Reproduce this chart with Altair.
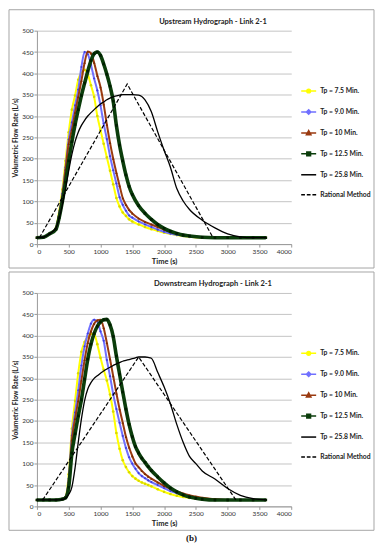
import altair as alt
import pandas as pd

# ---------------- data ----------------
SERIES = ["Tp = 7.5 Min.", "Tp = 9.0 Min.", "Tp = 10 Min.", "Tp = 12.5 Min.",
          "Tp = 25.8 Min.", "Rational Method"]

# Upstream hydrograph
T_UP = [0, 100, 200, 300, 350, 400, 450, 500, 550, 600, 650, 700, 750, 800, 850, 900,
        950, 1000, 1050, 1100, 1150, 1200, 1250, 1300, 1350, 1400, 1450, 1500,
        1600, 1700, 1800, 1900, 2000, 2100, 2200, 2300, 2400,
        2600, 2800, 3000, 3200, 3400, 3600]
UP_TP75 = [15, 16, 24, 38, 78, 128, 195, 262, 315, 348, 385, 402, 408, 398, 372, 345,
           300, 267, 235, 203, 172, 140, 108, 88, 74, 66, 58, 53,
           46, 40, 35, 31, 27, 24, 21, 19, 17, 15, 15, 15, 15, 15, 15]
UP_TP90 = [15, 16, 24, 37, 72, 118, 180, 245, 285, 325, 362, 415, 450, 445, 420, 388,
           360, 325, 282, 246, 206, 173, 142, 110, 92, 78, 67, 62,
           53, 46, 40, 34, 29, 25, 22, 20, 18, 16, 15, 15, 15, 15, 15]
UP_TP10 = [15, 16, 24, 37, 70, 112, 175, 235, 268, 308, 345, 383, 425, 451, 447, 425,
           395, 368, 328, 280, 237, 200, 167, 137, 108, 92, 80, 72,
           60, 52, 46, 40, 34, 29, 25, 22, 19, 16, 15, 15, 15, 15, 15]
UP_TP125 = [15, 16, 24, 35, 62, 100, 145, 195, 240, 280, 315, 348, 377, 405, 430, 446,
            450, 442, 422, 398, 370, 335, 278, 232, 195, 162, 135, 116,
            90, 72, 58, 46, 37, 30, 25, 21, 19, 16, 15, 15, 15, 15, 15]
UP_TP258 = [15, 16, 24, 38, 60, 92, 130, 172, 210, 240, 262, 278, 290, 300, 308, 315,
            322, 328, 333, 338, 342, 345, 347, 349, 350, 350, 350, 350,
            349, 338, 310, 263, 220, 180, 130, 101, 81, 56, 38, 24, 17, 15, 15]
UP_RAT_T = [40, 1420, 2770]
UP_RAT_Q = [15, 375, 15]

# Downstream hydrograph
T_DN = [0, 100, 200, 300, 400, 450, 500, 550, 600, 650, 700, 750, 800, 850, 900, 950,
        1000, 1050, 1100, 1150, 1200, 1250, 1300, 1350, 1400, 1450, 1500, 1550,
        1600, 1650, 1700, 1750, 1800, 1900, 2000, 2100, 2200, 2300, 2400, 2500,
        2600, 2800, 3000, 3200, 3400, 3600]
DN_TP75 = [15, 15, 15, 15, 17, 22, 75, 182, 247, 312, 362, 385, 398, 404, 403, 380,
           348, 320, 295, 262, 222, 172, 135, 108, 92, 80, 71, 65,
           60, 56, 53, 50, 47, 40, 34, 29, 25, 22, 20, 18, 17, 15, 15, 15, 15, 15]
DN_TP90 = [15, 15, 15, 15, 17, 21, 65, 166, 220, 272, 330, 375, 405, 428, 437, 433,
           410, 388, 343, 305, 263, 228, 196, 165, 137, 115, 100, 88,
           78, 71, 66, 61, 57, 50, 43, 36, 31, 27, 23, 20, 18, 16, 15, 15, 15, 15]
DN_TP10 = [15, 15, 15, 15, 17, 21, 58, 155, 205, 247, 295, 343, 383, 410, 428, 436,
           437, 418, 383, 345, 305, 265, 228, 196, 163, 138, 118, 101,
           92, 83, 76, 70, 65, 56, 48, 41, 35, 30, 26, 23, 20, 17, 15, 15, 15, 15]
DN_TP125 = [15, 15, 15, 15, 17, 20, 45, 125, 170, 212, 250, 298, 345, 380, 405, 422,
            432, 437, 438, 425, 398, 352, 310, 268, 228, 192, 163, 140,
            125, 113, 103, 93, 84, 69, 55, 43, 34, 27, 22, 19, 17, 15, 15, 15, 15, 15]
DN_TP258 = [15, 15, 15, 15, 16, 19, 28, 45, 90, 150, 205, 248, 275, 290, 300, 306,
            312, 317, 322, 326, 330, 334, 337, 340, 342, 344, 346, 348,
            350, 350, 350, 349, 347, 314, 280, 240, 192, 150, 117, 100,
            83, 64, 42, 26, 18, 15]
DN_RAT_T = [90, 1600, 3130]
DN_RAT_Q = [15, 350, 15]

# ---------------- styles ----------------
LINE_COLORS = ["#FFFF00", "#7070FF", "#9A3A10", "#0B3D0B", "#000000", "#000000"]
MARK_COLORS = ["#D8D800", "#3F3FE0", "#7A2A00", "#001E00"]
MARK_SHAPES = ["circle", "diamond", "triangle-up", "square"]
WIDTHS = [2.0, 2.0, 2.0, 3.6, 1.3, 1.2]
LEG_PATHS = [
    "M-1,0H1M-0.25,0A0.25,0.25 0 1,0 0.25,0A0.25,0.25 0 1,0 -0.25,0Z",
    "M-1,0H1M0,-0.3L0.3,0L0,0.3L-0.3,0Z",
    "M-1,0H1M0,-0.3L0.3,0.25H-0.3Z",
    "M-1,0H1M-0.25,-0.25H0.25V0.25H-0.25Z",
    "M-1,0H1",
    "M-1,0H-0.5M-0.25,0H0.25M0.5,0H1",
]

FONT = "Lato"
W, H = 255, 214
LEFT_PAD, RIGHT_EDGE = 28, 338
TOP_PAD, BOT_PAD = 21, 24


def panel(title, T, curves, rat_t, rat_q):
    xenc = alt.X("t:Q", scale=alt.Scale(domain=[0, 4000]),
                 axis=alt.Axis(values=list(range(0, 4001, 500)), format="d", grid=False,
                               title="Time (s)",
                               labelFontSize=6.5, labelFont=FONT, labelColor="#333",
                               titleFontSize=7.5, titleFont=FONT, titleFontWeight="bold",
                               titleColor="#222", tickSize=3, labelPadding=1, titlePadding=3,
                               domainColor="#999", tickColor="#999"))
    yenc = alt.Y("q:Q", scale=alt.Scale(domain=[0, 500]),
                 axis=alt.Axis(values=list(range(0, 501, 50)), format="d", grid=True,
                               gridColor="#c4c4c4",
                               title="Volumetric Flow Rate (L/s)",
                               labelFontSize=6.5, labelFont=FONT, labelColor="#333",
                               titleFontSize=6.8, titleFont=FONT, titleColor="#222",
                               tickSize=3, labelPadding=1, titlePadding=3,
                               domainColor="#999", tickColor="#999"))

    border = alt.Chart(pd.DataFrame({"k": [0]})).mark_rect(
        fill="white", fillOpacity=0, stroke="#a6a6a6", strokeWidth=1).encode(
        x=alt.value(-LEFT_PAD), x2=alt.value(RIGHT_EDGE),
        y=alt.value(-TOP_PAD), y2=alt.value(H + BOT_PAD))

    layers = [border]
    for i, vals in enumerate(curves):
        df = pd.DataFrame({"t": T, "q": vals})
        layers.append(alt.Chart(df).mark_line(
            color=LINE_COLORS[i], strokeWidth=WIDTHS[i], interpolate="monotone").encode(
            x=xenc, y=yenc))
        if i < 4:
            layers.append(alt.Chart(df).mark_point(
                filled=True, size=7, color=MARK_COLORS[i], shape=MARK_SHAPES[i], opacity=1).encode(
                x=xenc, y=yenc))
    rdf = pd.DataFrame({"t": rat_t, "q": rat_q})
    layers.append(alt.Chart(rdf).mark_line(
        color="#000000", strokeWidth=WIDTHS[5], strokeDash=[4, 2]).encode(x=xenc, y=yenc))

    leg_df = pd.DataFrame({"series": SERIES})
    legend = alt.Legend(orient="none", legendX=264, legendY=52, title=None,
                        symbolSize=225, symbolStrokeWidth=1.5, symbolOpacity=1,
                        labelFont=FONT, labelFontSize=6.8, labelFontWeight="bold",
                        labelColor="#222", rowPadding=7, labelOffset=3, labelLimit=120,
                        padding=0)
    leg_layer = alt.Chart(leg_df).mark_point(opacity=0, filled=False).encode(
        x=alt.value(0), y=alt.value(0),
        color=alt.Color("series:N", scale=alt.Scale(domain=SERIES, range=LINE_COLORS),
                        legend=legend),
        fill=alt.Fill("series:N", scale=alt.Scale(domain=SERIES, range=LINE_COLORS),
                      legend=legend),
        shape=alt.Shape("series:N", scale=alt.Scale(domain=SERIES, range=LEG_PATHS),
                        legend=legend),
    )
    layers.append(leg_layer)

    return alt.layer(*layers).properties(
        width=W, height=H,
        title=alt.TitleParams(text=title, font=FONT, fontSize=7.5, fontWeight="bold",
                              color="#222", anchor="middle", dx=49, offset=-16))


top = panel("Upstream  Hydrograph  - Link 2-1", T_UP,
            [UP_TP75, UP_TP90, UP_TP10, UP_TP125, UP_TP258], UP_RAT_T, UP_RAT_Q)
bot = panel("Downstream  Hydrograph  - Link 2-1", T_DN,
            [DN_TP75, DN_TP90, DN_TP10, DN_TP125, DN_TP258], DN_RAT_T, DN_RAT_Q)

chart = alt.vconcat(top, bot, spacing=2).resolve_scale(
    color="independent", fill="independent", shape="independent",
    x="independent", y="independent").resolve_legend(
    color="independent", fill="independent", shape="independent").properties(
    padding=0, background="white",
    title=alt.TitleParams(text="(b)", orient="bottom", font="Liberation Serif",
                          fontSize=9, fontWeight="bold", color="#111", offset=3,
                          anchor="middle")).configure_view(strokeWidth=0)

chart.save("out.html", embed_options={"renderer": "svg", "actions": False})
